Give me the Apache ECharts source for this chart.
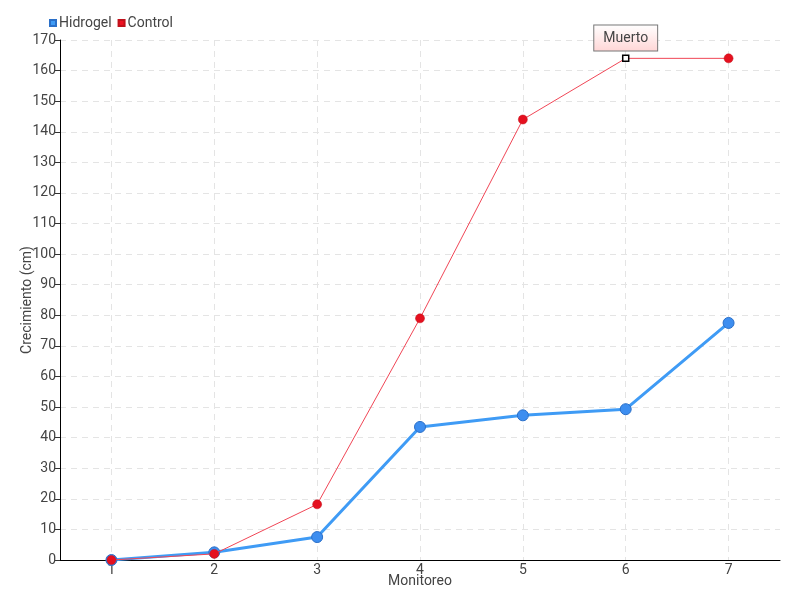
<!DOCTYPE html>
<html><head><meta charset="utf-8">
<script src="https://cdn.jsdelivr.net/npm/echarts@6/dist/echarts.min.js"></script>
<style>html,body{margin:0;padding:0;background:#fff}#c{width:800px;height:600px}</style>
</head><body><div id="c"></div>
<script>
const categories = ['1','2','3','4','5','6','7'];
const hidrogel = [0, 2.5, 7.5, 43.5, 47.3, 49.3, 77.5];
const control = [0, 2, 18.2, 79, 144, 164, 164];
const noteIndex = 5;
const noteText = 'Muerto';

const FONT = "Roboto, 'Liberation Sans', sans-serif";
const chart = echarts.init(document.getElementById('c'));
const controlData = control.map((v, i) => i === noteIndex ? {
  value: v,
  symbol: 'rect', symbolSize: 6,
  itemStyle: {color: '#fff', borderColor: '#000', borderWidth: 1.5},
  label: {
    show: true, position: 'top', distance: 7, offset: [0, 3], formatter: noteText,
    fontFamily: FONT, fontSize: 14, color: '#444',
    padding: [6, 9, 5, 9],
    borderColor: '#777', borderWidth: 1,
    backgroundColor: {type: 'linear', x: 0, y: 0, x2: 0, y2: 1,
      colorStops: [{offset: 0, color: '#ffffff'}, {offset: 1, color: '#ffd6d6'}]}
  }
} : v);

chart.setOption({
  animation: false,
  textStyle: {fontFamily: FONT},
  legend: {
    left: 44, top: 11, itemWidth: 6, itemHeight: 6, itemGap: 6,
    icon: 'rect',
    textStyle: {fontFamily: FONT, fontSize: 14, color: '#444', padding: [0, 0, 0, -2]},
    data: [{name: 'Hidrogel', itemStyle: {color: '#3f9bf5'}}, {name: 'Control', itemStyle: {color: '#ee1122'}}]
  },
  grid: {left: 60, right: 20, top: 40, bottom: 40, outerBoundsMode: 'none', containLabel: false},
  xAxis: {
    type: 'category', data: categories, boundaryGap: true,
    name: 'Monitoreo', nameLocation: 'middle', nameGap: 14, nameMoveOverlap: false,
    nameTextStyle: {fontFamily: FONT, fontSize: 14, color: '#444'},
    axisLine: {lineStyle: {color: '#000', width: 1}},
    axisTick: {alignWithLabel: true, length: 5, lineStyle: {color: '#333'}},
    axisLabel: {fontFamily: FONT, fontSize: 14, color: '#444', margin: 3},
    splitLine: {show: true, alignWithLabel: true, lineStyle: {color: '#e4e4e4', type: [6, 5]}}
  },
  yAxis: {
    type: 'value', min: 0, max: 170, interval: 10,
    name: 'Crecimiento (cm)', nameLocation: 'middle', nameGap: 26, nameMoveOverlap: false,
    nameTextStyle: {fontFamily: FONT, fontSize: 14, color: '#444'},
    axisLine: {show: true, lineStyle: {color: '#000', width: 1}},
    axisTick: {show: true, length: 5, lineStyle: {color: '#333'}},
    axisLabel: {fontFamily: FONT, fontSize: 14, color: '#444', margin: 4},
    splitLine: {show: true, lineStyle: {color: '#e4e4e4', type: [6, 5]}}
  },
  series: [
    {
      name: 'Hidrogel', type: 'line', data: hidrogel,
      symbol: 'circle', symbolSize: 11,
      lineStyle: {color: '#3f9bf5', width: 3},
      itemStyle: {color: '#3d8ef0', borderColor: '#2a6fc8', borderWidth: 1},
      z: 2
    },
    {
      name: 'Control', type: 'line', data: controlData,
      symbol: 'circle', symbolSize: 9,
      lineStyle: {color: '#f04656', width: 1},
      itemStyle: {color: '#e5101f', borderColor: '#c0101a', borderWidth: 0.5},
      z: 3
    }
  ]
});
</script></body></html>
